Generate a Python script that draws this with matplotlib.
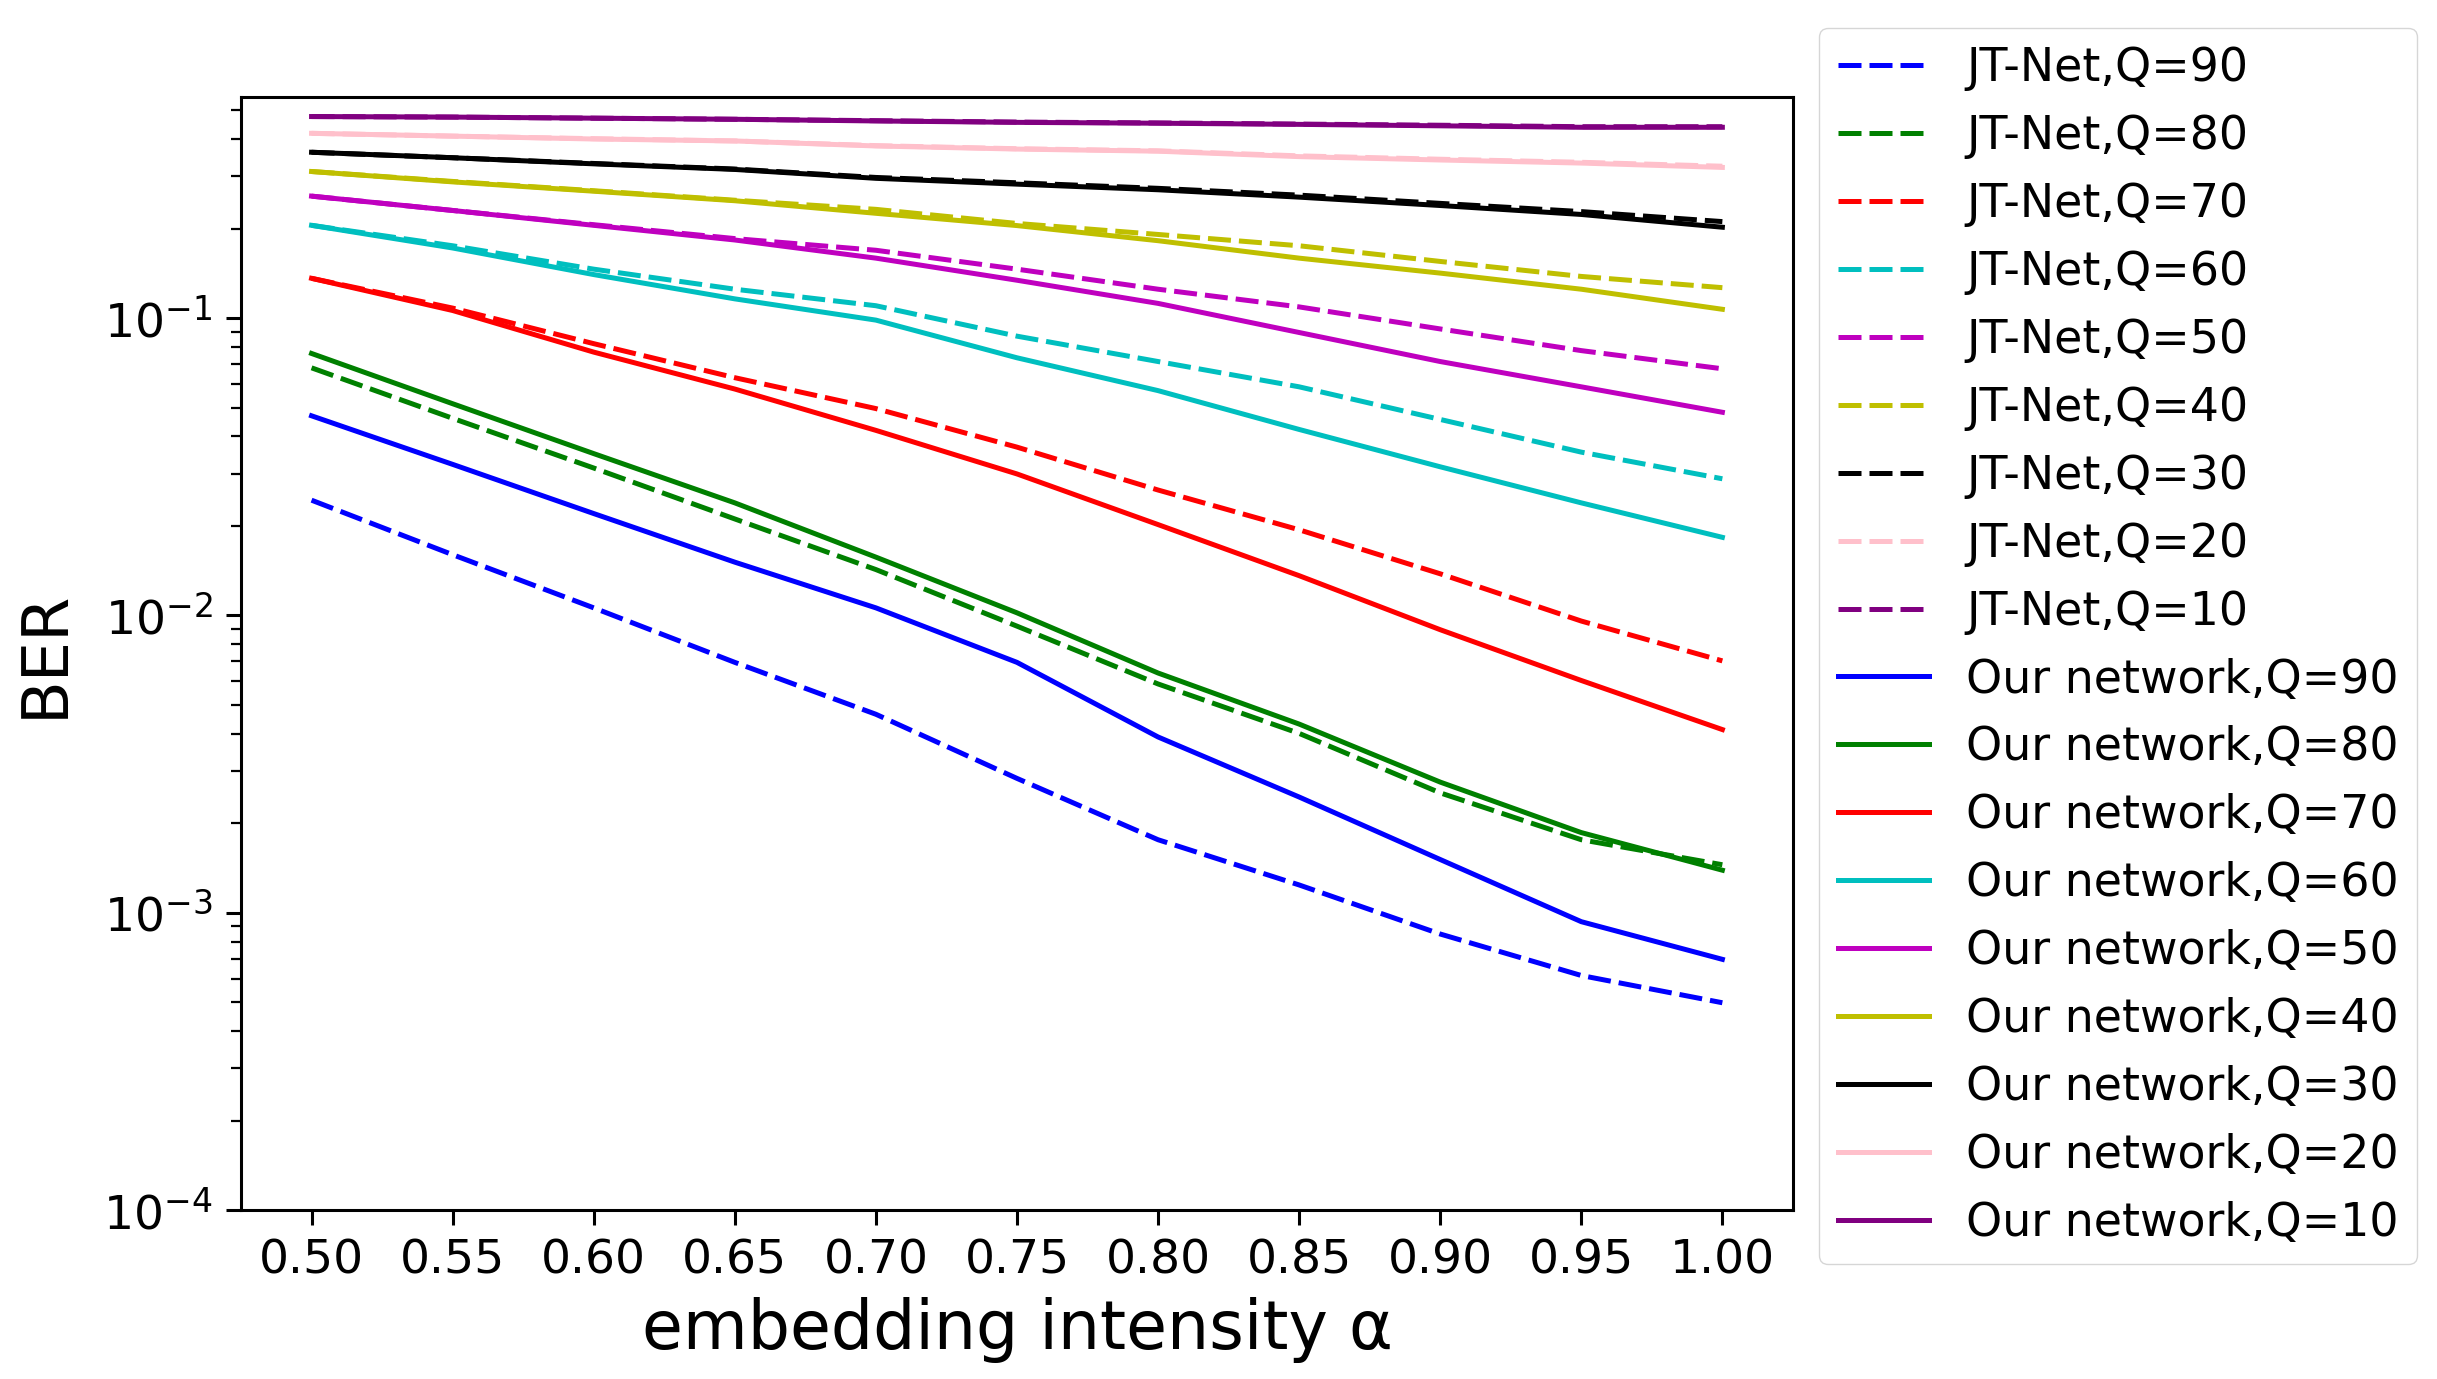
import matplotlib
matplotlib.use('Agg')
import matplotlib.pyplot as plt

# embedding intensity values
alpha = [0.50, 0.55, 0.60, 0.65, 0.70, 0.75, 0.80, 0.85, 0.90, 0.95, 1.00]

quality = [90, 80, 70, 60, 50, 40, 30, 20, 10]
colors = ['b', 'g', 'r', 'c', 'm', 'y', 'k', 'pink', 'purple']

# BER of JT-Net (dashed), one list per JPEG quality
jt_q90 = [0.0244, 0.0160, 0.0106, 0.00695, 0.00465, 0.00283, 0.00176, 0.00124, 0.000848, 0.000615, 0.000498]
jt_q80 = [0.068, 0.046, 0.0313, 0.0211, 0.01426, 0.0092, 0.00588, 0.00401, 0.00253, 0.00176, 0.00145]
jt_q70 = [0.136, 0.108, 0.082, 0.063, 0.0496, 0.0368, 0.0264, 0.0194, 0.0138, 0.00957, 0.00703]
jt_q60 = [0.205, 0.175, 0.146, 0.125, 0.110, 0.0869, 0.0714, 0.0587, 0.0456, 0.0354, 0.0288]
jt_q50 = [0.257, 0.230, 0.206, 0.185, 0.169, 0.146, 0.125, 0.109, 0.0919, 0.0777, 0.0675]
jt_q40 = [0.311, 0.288, 0.268, 0.249, 0.232, 0.208, 0.191, 0.175, 0.155, 0.138, 0.1265]
jt_q30 = [0.361, 0.346, 0.331, 0.317, 0.297, 0.285, 0.273, 0.259, 0.243, 0.228, 0.211]
jt_q20 = [0.418, 0.409, 0.401, 0.394, 0.380, 0.371, 0.365, 0.351, 0.342, 0.334, 0.324]
jt_q10 = [0.476, 0.474, 0.470, 0.466, 0.461, 0.456, 0.453, 0.449, 0.445, 0.440, 0.440]

# BER of our network (solid)
our_q90 = [0.0469, 0.0322, 0.0220, 0.0151, 0.0106, 0.00695, 0.0039, 0.00245, 0.00151, 0.000933, 0.000697]
our_q80 = [0.076, 0.0515, 0.035, 0.0239, 0.0157, 0.0102, 0.0064, 0.00431, 0.00275, 0.00186, 0.00139]
our_q70 = [0.136, 0.106, 0.0768, 0.0577, 0.0419, 0.0299, 0.0202, 0.0136, 0.00895, 0.00604, 0.00413]
our_q60 = [0.205, 0.172, 0.140, 0.116, 0.0984, 0.0735, 0.057, 0.0422, 0.0316, 0.0239, 0.0183]
our_q50 = [0.257, 0.230, 0.205, 0.183, 0.159, 0.134, 0.112, 0.0894, 0.0714, 0.0587, 0.0482]
our_q40 = [0.311, 0.287, 0.267, 0.248, 0.225, 0.2046, 0.182, 0.159, 0.1416, 0.125, 0.107]
our_q30 = [0.361, 0.346, 0.330, 0.316, 0.295, 0.282, 0.270, 0.255, 0.239, 0.223, 0.202]
our_q20 = [0.418, 0.409, 0.400, 0.394, 0.379, 0.370, 0.364, 0.349, 0.340, 0.332, 0.321]
our_q10 = [0.476, 0.474, 0.470, 0.466, 0.460, 0.455, 0.452, 0.448, 0.443, 0.438, 0.438]

jt_series = [jt_q90, jt_q80, jt_q70, jt_q60, jt_q50, jt_q40, jt_q30, jt_q20, jt_q10]
our_series = [our_q90, our_q80, our_q70, our_q60, our_q50, our_q40, our_q30, our_q20, our_q10]

plt.rcParams['axes.linewidth'] = 2.2

fig = plt.figure(figsize=(24.37, 13.79), dpi=100)
ax = fig.add_axes([0.0989, 0.1225, 0.6368, 0.8072])

for q, c, ys in zip(quality, colors, jt_series):
    ax.plot(alpha, ys, '--', color=c, linewidth=3.6, dashes=(4.6, 1.6),
            label=f'JT-Net,Q={q}')
for q, c, ys in zip(quality, colors, our_series):
    ax.plot(alpha, ys, '-', color=c, linewidth=3.6, label=f'Our network,Q={q}')

ax.set_yscale('log')
ax.set_ylim(1e-4, 0.554)
ax.set_xticks(alpha)
ax.set_xticklabels([f'{a:.2f}' for a in alpha])

ax.tick_params(axis='both', which='major', labelsize=34, length=10.5, width=2.2, pad=10)
ax.tick_params(axis='both', which='minor', length=7, width=1.6)

ax.set_xlabel('embedding intensity α', fontsize=48, labelpad=10)
ax.set_ylabel('BER', fontsize=46, labelpad=20)

ax.legend(loc='upper left', bbox_to_anchor=(1.017, 1.062), borderaxespad=0,
          fontsize=33, labelspacing=0.5, handlelength=2.0)

fig.savefig('out.png', dpi=100)
